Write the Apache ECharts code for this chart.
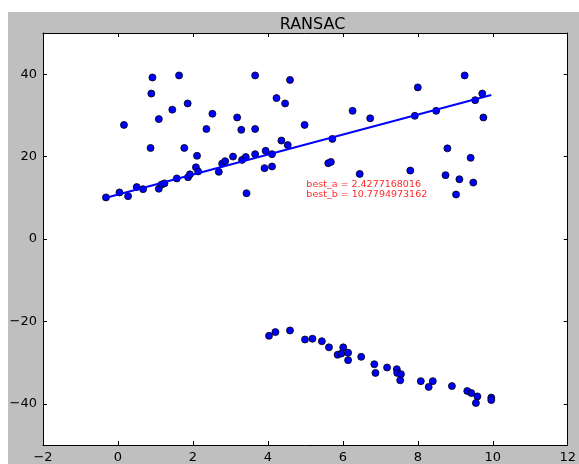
<!DOCTYPE html>
<html>
<head>
<meta charset="utf-8">
<script src="https://cdn.jsdelivr.net/npm/echarts@6/dist/echarts.min.js"></script>
<style>
html,body{margin:0;padding:0;background:#fff;}
#c{width:579px;height:464px;}
</style>
</head>
<body>
<div id="c"></div>
<script>
// Outlier points (x, y)
var outlierX = [0.92,1.63,0.89,1.86,1.45,1.09,2.52,0.16,2.36,0.87,1.77,2.11,2.08,3.66,4.59,4.23,4.46,3.18,6.26,6.73,3.29,3.66,4.98,4.36,4.53,3.43,5.61,5.68,6.45,9.25,8.00,9.72,9.75,8.79,9.41,7.80,8.74,9.11,9.48,9.02,3.91,4.11,4.11,3.94];
var outlierY = [39.2,39.7,35.3,32.9,31.4,29.1,30.4,27.7,26.7,22.1,22.1,20.2,17.4,39.7,38.6,34.2,32.9,29.5,31.1,29.3,26.5,26.7,27.7,23.9,22.8,11.1,18.4,18.7,15.8,39.7,36.8,35.3,29.5,22.0,19.7,16.6,15.5,14.5,13.7,10.8,17.2,17.6,20.6,21.4];
// Points along the fitted line
var inlierX = [-0.32,0.04,0.27,0.50,0.67,1.09,1.16,1.24,1.57,1.87,1.92,2.14,2.69,2.78,2.86,3.07,3.31,3.41,3.66,5.72,7.92,8.49,9.53];
var inlierY = [10.1,11.3,10.4,12.6,12.1,12.2,13.2,13.5,14.7,15.0,15.7,16.4,16.3,18.3,18.9,20.0,19.2,19.9,20.6,24.3,29.9,31.1,33.7];
// Lower cluster
var lowerX = [4.03,4.20,4.59,4.99,5.19,5.44,5.63,6.01,5.86,5.96,6.14,6.14,6.49,6.84,6.87,7.18,7.44,7.45,7.55,7.53,8.08,8.29,8.40,8.91,9.32,9.43,9.59,9.55,9.96,9.96];
var lowerY = [-23.5,-22.6,-22.2,-24.4,-24.2,-24.8,-26.3,-26.3,-28.1,-27.8,-27.6,-29.4,-28.6,-30.4,-32.5,-31.2,-31.6,-32.5,-32.8,-34.3,-34.5,-35.9,-34.5,-35.7,-36.9,-37.4,-38.2,-39.8,-38.5,-39.1];
// Fitted model
var bestA = 2.4277168016;
var bestB = 10.7794973162;
var lineXRange = [-0.32, 9.96];
var xTicks = [-2,0,2,4,6,8,10,12];
var yTicks = [-40,-20,0,20,40];
var titleText = 'RANSAC';
var noteLines = ['best_a = 2.4277168016', 'best_b = 10.7794973162'];
var notePos = [5, 10];

function zip(a,b){var r=[];for(var i=0;i<a.length;i++)r.push([a[i],b[i]]);return r;}
var pts = zip(outlierX,outlierY).concat(zip(inlierX,inlierY)).concat(zip(lowerX,lowerY));
var lineData = lineXRange.map(function(x){return [x, bestA*x+bestB];});

var FONT = 'DejaVu Sans';
function fmt(v){return String(v).replace('-', '\u2212');}

var chart = echarts.init(document.getElementById('c'), null, {renderer:'canvas'});
var axisCommon = {
  type:'value',
  axisLine:{show:true,onZero:false,lineStyle:{color:'#000',width:1}},
  splitLine:{show:false}
};
var option = {
  backgroundColor:'#fff',
  animation:false,
  title:{text:titleText,left:307.5,textAlign:'center',top:12,
    textStyle:{fontFamily:FONT,fontSize:16,fontWeight:'normal',color:'#000'}},
  grid:{left:43,right:7,top:33,bottom:19,show:true,backgroundColor:'#fff',borderWidth:0},
  xAxis:[
    Object.assign({},axisCommon,{position:'bottom',min:-2,max:12,interval:2,
      axisTick:{show:true,inside:true,length:4,lineStyle:{color:'#000'}},
      axisLabel:{show:true,margin:6,color:'#000',fontFamily:FONT,fontSize:13,formatter:fmt}}),
    Object.assign({},axisCommon,{position:'top',min:-2,max:12,interval:2,
      axisTick:{show:true,inside:true,length:4,lineStyle:{color:'#000'}},
      axisLabel:{show:false}})
  ],
  yAxis:[
    Object.assign({},axisCommon,{position:'left',min:-50,max:50,
      axisTick:{show:true,inside:true,length:4,customValues:yTicks,lineStyle:{color:'#000'}},
      axisLabel:{show:true,margin:6,color:'#000',fontFamily:FONT,fontSize:13,customValues:yTicks,formatter:fmt}}),
    Object.assign({},axisCommon,{position:'right',min:-50,max:50,
      axisTick:{show:true,inside:true,length:4,customValues:yTicks,lineStyle:{color:'#000'}},
      axisLabel:{show:false,customValues:yTicks}})
  ],
  series:[
    {type:'scatter',xAxisIndex:0,yAxisIndex:0,data:pts,symbol:'circle',symbolSize:7,
      itemStyle:{color:'#0000ff',borderColor:'#000',borderWidth:0.8,opacity:1},z:3},
    {type:'line',xAxisIndex:0,yAxisIndex:0,data:lineData,showSymbol:false,symbol:'none',
      lineStyle:{color:'#0000ff',width:2},z:4}
  ]
};
chart.setOption(option);
var p = chart.convertToPixel({xAxisIndex:0,yAxisIndex:0}, notePos);
chart.setOption({
  graphic:[
    {type:'rect',shape:{x:8,y:12,width:571,height:452},style:{fill:'#bfbfbf'},z:-10,silent:true},
    {type:'text',x:p[0]+1,y:p[1]+2,z:10,style:{text:noteLines.join('\n'),fill:'#ff2a2a',
      font:'9.5px "DejaVu Sans"',lineHeight:10.5,align:'left',verticalAlign:'bottom'}}
  ]
});
</script>
</body>
</html>
